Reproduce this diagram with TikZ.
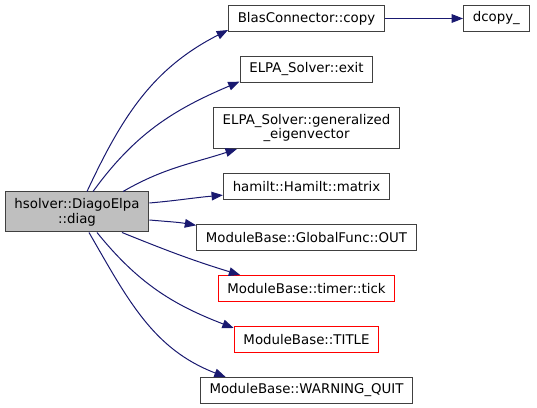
\documentclass[tikz,border=0pt]{standalone}
\usepackage{fontspec}
\setmainfont{DejaVu Sans}
\usetikzlibrary{arrows.meta,positioning}
\definecolor{edgeblue}{HTML}{191970}
\definecolor{boxline}{HTML}{404040}
\definecolor{rootfill}{HTML}{BFBFBF}
\tikzset{
  func/.style={draw=boxline,fill=white,line width=0.75pt,align=center,
    minimum height=19.5pt,inner xsep=7pt,inner ysep=2pt,
    font=\fontsize{10}{11}\selectfont},
  root/.style={func,fill=rootfill,minimum height=30pt},
  trunc/.style={func,draw=red},
  call/.style={-{Triangle[length=8.5pt,width=6.5pt]},draw=edgeblue,line width=0.75pt}
}

\begin{document}
\begin{tikzpicture}[x=0.75pt,y=0.75pt,node distance=18pt and 58.5pt]
  \useasboundingbox (0,0) rectangle (537,408);
  % caller
  \node[root] (src) at (77,196) {hsolver::DiagoElpa\\::diag};
  % callees
  \node[func] (blas) at (306.5,389.5) {BlasConnector::copy};
  \node[func,right=of blas] (dcopy) {dcopy\_};
  \node[func,below=of blas] (exit) {ELPA\_Solver::exit};
  \node[func,below=of exit,minimum height=30.75pt] (gen) {ELPA\_Solver::generalized\\\_eigenvector};
  \node[func,below=of gen] (hamilt) {hamilt::Hamilt::matrix};
  \node[func,below=of hamilt] (out) {ModuleBase::GlobalFunc::OUT};
  \node[trunc,below=of out] (tick) {ModuleBase::timer::tick};
  \node[trunc,below=of tick] (title) {ModuleBase::TITLE};
  \node[func,below=of title] (warn) {ModuleBase::WARNING\_QUIT};
  % calls
  \draw[call] (blas) -- (dcopy);
  \draw[call] ([xshift=7.5pt]src.north) to[out=65,in=207] ([yshift=1.5pt]blas.south west);
  \draw[call] ([xshift=12pt]src.north) to[out=54,in=203] ([yshift=1pt]exit.south west);
  \draw[call] ([xshift=34.5pt]src.north) to[out=30,in=198] ([xshift=18pt]gen.south west);
  \draw[call] ([yshift=6.75pt]src.east) to[out=5,in=185] ([yshift=-6.5pt]hamilt.west);
  \draw[call] ([yshift=-6pt]src.east) to[out=-5,in=170] ([yshift=-1pt]out.north west);
  \draw[call] ([xshift=33.75pt]src.south) to[out=-22,in=163] ([xshift=17pt]tick.north west);
  \draw[call] ([xshift=15pt]src.south) to[out=-51,in=159] ([yshift=-1.5pt]title.north west);
  \draw[call] ([xshift=9pt]src.south) to[out=-60,in=159] ([xshift=19.5pt]warn.north west);
\end{tikzpicture}
\end{document}
